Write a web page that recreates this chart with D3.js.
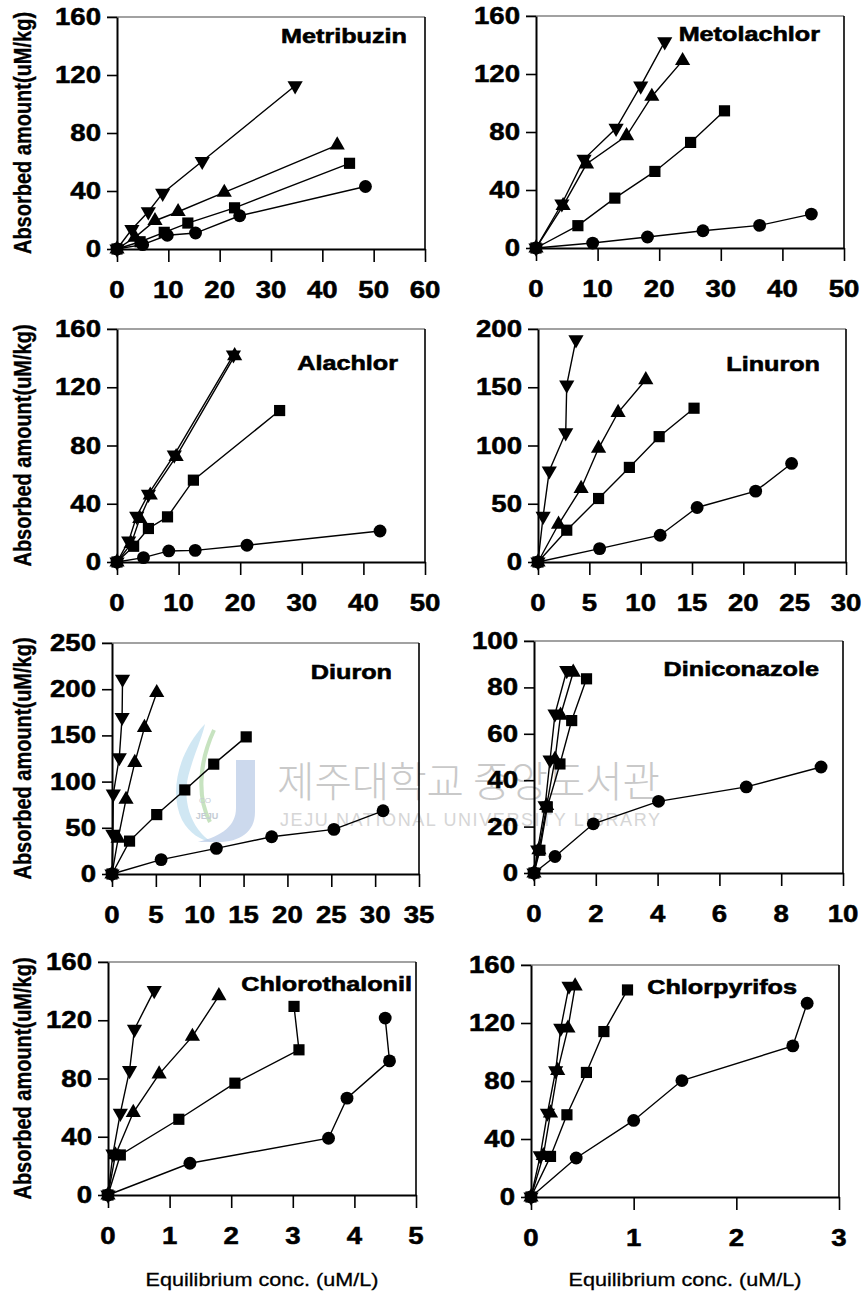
<!DOCTYPE html>
<html>
<head>
<meta charset="utf-8">
<script src="https://cdn.jsdelivr.net/npm/d3@7"></script>
<style>
  body { margin: 0; background: #fff; }
  svg { display: block; }
</style>
</head>
<body>
<svg id="chart" width="865" height="1296"></svg>
<script>
// ---------- Sorption isotherm data: [equilibrium conc (uM/L), absorbed amount (uM/kg)] ----------
const METRIBUZIN_CIRCLE = [[0,0],[5,3],[9.8,9.5],[15.3,11],[23.9,22.9],[48.4,43.1]];
const METRIBUZIN_SQUARE = [[0,0],[4.5,5],[9.2,11.5],[13.8,17.9],[22.9,28.4],[45.3,59.1]];
const METRIBUZIN_UP     = [[0,0],[3.5,8],[7.4,19.5],[11.9,25.7],[20.9,39],[42.9,71.7]];
const METRIBUZIN_DOWN   = [[0,0],[2.9,13.6],[6.1,25.7],[8.9,38.5],[16.6,60.5],[34.7,112.6]];

const METOLACHLOR_CIRCLE = [[0,0],[9.2,3.4],[18.1,7.6],[27.1,11.9],[36.3,15.6],[44.7,23.4]];
const METOLACHLOR_SQUARE = [[0,0],[6.8,15.4],[12.8,34.4],[19.3,52.8],[25.1,72.8],[30.6,94.6]];
const METOLACHLOR_UP     = [[0,0],[4.4,29.2],[8.2,57.9],[14.7,77.4],[18.8,104.5],[23.8,129.2]];
const METOLACHLOR_DOWN   = [[0,0],[4.2,30.5],[7.8,61.3],[13,82.6],[17,111.8],[20.9,142.3]];

const ALACHLOR_CIRCLE = [[0,0],[4.3,3],[8.4,7.6],[12.7,8],[21.1,11.5],[42.7,21.3]];
const ALACHLOR_SQUARE = [[0,0],[2.7,10.8],[5.1,23],[8.2,31],[12.4,56.2],[26.4,104]];
const ALACHLOR_UP     = [[0,0],[2.3,12.6],[3.7,29.8],[5.4,45.9],[9.6,72.3],[19.1,141.6]];
const ALACHLOR_DOWN   = [[0,0],[1.9,14.5],[3.2,31.5],[5.1,46.6],[9.3,73.5],[18.9,142.3]];

const LINURON_CIRCLE = [[0,0],[6,11.5],[11.9,23],[15.5,46.8],[21.2,60.8],[24.7,84.6]];
const LINURON_SQUARE = [[0,0],[2.8,27.3],[5.9,54.5],[8.9,81.2],[11.8,107.6],[15.2,132]];
const LINURON_UP     = [[0,0],[2,32.4],[4.2,63.1],[5.9,97.6],[7.8,128.3],[10.5,156.4]];
const LINURON_DOWN   = [[0,0],[0.5,39.3],[1.1,78.3],[2.7,111],[2.8,152],[3.7,190.8]];

const DIURON_CIRCLE = [[0,0],[5.6,15.6],[11.9,27.7],[18.2,40.3],[25.3,48.3],[30.9,68.4]];
const DIURON_SQUARE = [[0,0],[2,35.6],[5.1,64.3],[8.3,91],[11.6,118.9],[15.3,148.4]];
const DIURON_UP     = [[0,0],[0.7,38.6],[1.6,80.7],[2.6,120.6],[3.7,158.4],[5.1,196.2]];
const DIURON_DOWN   = [[0,0],[0.1,43.2],[0.15,86.6],[0.83,126],[1.15,169.6],[1.2,211]];

const DINICONAZOLE_CIRCLE = [[0,0],[0.68,7.1],[1.92,21.2],[4.03,30.9],[6.87,37.1],[9.29,45.7]];
const DINICONAZOLE_SQUARE = [[0,0],[0.19,9.8],[0.43,28.4],[0.84,47],[1.22,65.7],[1.7,83.7]];
const DINICONAZOLE_UP     = [[0,0],[0.16,10],[0.41,29],[0.68,49],[0.86,68],[1.27,86.5]];
const DINICONAZOLE_DOWN   = [[0,0],[0.12,10],[0.36,29],[0.52,48.8],[0.68,68.6],[1.06,87.3]];

const CHLOROTHALONIL_CIRCLE = [[0,0],[1.33,21.8],[3.58,39],[3.88,66.5],[4.57,92.1],[4.5,121.5]];
const CHLOROTHALONIL_SQUARE = [[0,0],[0.2,27.5],[1.15,52],[2.06,76.8],[3.1,99.7],[3.02,129.5]];
const CHLOROTHALONIL_UP     = [[0,0],[0.12,27.5],[0.41,56.6],[0.83,83],[1.37,108.9],[1.8,136.8]];
const CHLOROTHALONIL_DOWN   = [[0,0],[0.08,28.2],[0.2,56.2],[0.35,85.5],[0.43,113.9],[0.75,140.5]];

const CHLORPYRIFOS_CIRCLE = [[0,0],[0.44,26.9],[1.0,52.8],[1.47,80.3],[2.55,104.2],[2.69,133.6]];
const CHLORPYRIFOS_SQUARE = [[0,0],[0.19,28],[0.35,56.7],[0.54,85.9],[0.71,114.1],[0.94,142.8]];
const CHLORPYRIFOS_UP     = [[0,0],[0.12,28.5],[0.19,57.9],[0.26,87.2],[0.36,116.4],[0.43,145.5]];
const CHLORPYRIFOS_DOWN   = [[0,0],[0.09,28.5],[0.16,57.9],[0.24,87.2],[0.29,116.4],[0.37,145.5]];

// ---------- Panel titles and axes ----------
const PANEL_TITLES = ["Metribuzin","Metolachlor","Alachlor","Linuron","Diuron","Diniconazole","Chlorothalonil","Chlorpyrifos"];
const X_TICKS = [
  [0,10,20,30,40,50,60], [0,10,20,30,40,50], [0,10,20,30,40,50], [0,5,10,15,20,25,30],
  [0,5,10,15,20,25,30,35], [0,2,4,6,8,10], [0,1,2,3,4,5], [0,1,2,3]
];
const Y_TICKS = [
  [0,40,80,120,160], [0,40,80,120,160], [0,40,80,120,160], [0,50,100,150,200],
  [0,50,100,150,200,250], [0,20,40,60,80,100], [0,40,80,120,160], [0,40,80,120,160]
];
const Y_LABEL = "Absorbed amount(uM/kg)";
const X_LABEL = "Equilibrium conc. (uM/L)";

const SERIES = [
  [METRIBUZIN_CIRCLE, METRIBUZIN_SQUARE, METRIBUZIN_UP, METRIBUZIN_DOWN],
  [METOLACHLOR_CIRCLE, METOLACHLOR_SQUARE, METOLACHLOR_UP, METOLACHLOR_DOWN],
  [ALACHLOR_CIRCLE, ALACHLOR_SQUARE, ALACHLOR_UP, ALACHLOR_DOWN],
  [LINURON_CIRCLE, LINURON_SQUARE, LINURON_UP, LINURON_DOWN],
  [DIURON_CIRCLE, DIURON_SQUARE, DIURON_UP, DIURON_DOWN],
  [DINICONAZOLE_CIRCLE, DINICONAZOLE_SQUARE, DINICONAZOLE_UP, DINICONAZOLE_DOWN],
  [CHLOROTHALONIL_CIRCLE, CHLOROTHALONIL_SQUARE, CHLOROTHALONIL_UP, CHLOROTHALONIL_DOWN],
  [CHLORPYRIFOS_CIRCLE, CHLORPYRIFOS_SQUARE, CHLORPYRIFOS_UP, CHLORPYRIFOS_DOWN]
];

// ---------- Layout ----------
// plot frames: left, right, top, bottom
const FRAMES = [
  [117,425,17,249], [536,844,16,248],
  [117,425,329,562], [538,846,329,562],
  [112,419,643,874], [534,843,641,873],
  [108,416,962,1195], [531,839,965,1197]
];
// title placement: inset from the right edge, offset of its centre below the top edge
const TITLE_POS = [[18,18],[24,17],[27,33],[26,34],[27,28],[24,27],[4,21],[42,21]];
const FONT = "'Liberation Sans', Arial, Helvetica, sans-serif";
const STRETCH = 1.2;   // glyphs are drawn slightly wide

const svg = d3.select("#chart");

// ---------- Library watermark (drawn beneath the plots) ----------
const wm = svg.append("g").attr("class", "watermark");
wm.append("path")
  .attr("d", "M205,724 C180,750 168,790 182,820 C190,834 200,840 212,842 C192,830 180,800 190,770 C195,752 202,738 205,724 Z")
  .attr("fill", "#a9d3ea").attr("opacity", 0.55);
wm.append("path")
  .attr("d", "M214,730 C200,760 196,795 210,822 C198,800 198,765 214,730 Z")
  .attr("fill", "none").attr("stroke", "#b9dcb0").attr("stroke-width", 4).attr("opacity", 0.8);
wm.append("path")
  .attr("d", "M236,760 L255,760 L255,812 C255,832 240,842 218,842 L198,842 C222,836 236,826 236,808 Z")
  .attr("fill", "#b7c9e6").attr("opacity", 0.7);
wm.append("text").attr("x", 205).attr("y", 803).attr("text-anchor", "middle")
  .attr("font-family", FONT).attr("font-size", 8).attr("fill", "#c4cbd4").text("CO");
wm.append("text").attr("x", 207).attr("y", 819).attr("text-anchor", "middle")
  .attr("font-family", FONT).attr("font-weight", "bold").attr("font-size", 9).attr("fill", "#c4cbd4").text("JEJU");
wm.append("text")
  .attr("x", 277).attr("y", 797)
  .attr("font-family", "'Noto Sans CJK KR', sans-serif").attr("font-weight", 300)
  .attr("font-size", 42).attr("fill", "#c9c9c9")
  .attr("textLength", 383).attr("lengthAdjust", "spacingAndGlyphs")
  .text("제주대학교 중앙도서관");
wm.append("text")
  .attr("x", 280).attr("y", 826)
  .attr("font-family", FONT).attr("font-size", 18).attr("fill", "#d6d6d6")
  .attr("textLength", 380).attr("lengthAdjust", "spacing")
  .text("JEJU NATIONAL UNIVERSITY  LIBRARY");

// Text with horizontally widened glyphs
function wideText(parent, x, y, str, anchor, size, weight, stroke) {
  return parent.append("text")
    .attr("transform", `translate(${x},${y}) scale(${STRETCH},1)`)
    .attr("text-anchor", anchor)
    .attr("font-family", FONT)
    .attr("font-size", size)
    .attr("font-weight", weight)
    .attr("fill", "#000")
    .attr("stroke", "#000")
    .attr("stroke-width", stroke)
    .text(str);
}

const symbolTypes = [d3.symbolCircle, d3.symbolSquare, d3.symbolTriangle, d3.symbolTriangle];
const symbolSizes = [130, 125, 100, 100];
const symbolRotate = [0, 0, 0, 180];

PANEL_TITLES.forEach((title, i) => {
  const [L, R, T, B] = FRAMES[i];
  const xt = X_TICKS[i], yt = Y_TICKS[i];
  const x = d3.scaleLinear().domain([0, xt[xt.length - 1]]).range([L, R]);
  const y = d3.scaleLinear().domain([0, yt[yt.length - 1]]).range([B, T]);
  const g = svg.append("g").attr("class", "panel");

  // frame: top and right borders
  g.append("line").attr("x1", L - 10).attr("x2", R).attr("y1", T).attr("y2", T)
    .attr("stroke", "#444").attr("stroke-width", 1.2);
  g.append("line").attr("x1", R).attr("x2", R).attr("y1", T).attr("y2", B)
    .attr("stroke", "#000").attr("stroke-width", 1.6);

  // axes
  const xAxis = g.append("g").attr("transform", `translate(0,${B})`)
    .call(d3.axisBottom(x).tickValues(xt).tickSize(13).tickSizeOuter(0).tickFormat(""));
  const yAxis = g.append("g").attr("transform", `translate(${L},0)`)
    .call(d3.axisLeft(y).tickValues(yt).tickSize(10).tickSizeOuter(0).tickFormat(""));
  [xAxis, yAxis].forEach(a => {
    a.select(".domain").attr("stroke", "#000").attr("stroke-width", 2);
    a.selectAll(".tick line").attr("stroke", "#000").attr("stroke-width", 1.6);
  });

  // tick labels
  xt.forEach(v => wideText(g, x(v), B + 49, String(v), "middle", 23, "bold", 0.5));
  yt.forEach(v => wideText(g, L - 16, y(v) + 8, String(v), "end", 23, "bold", 0.5));

  // series: connecting lines then markers
  const line = d3.line().x(d => x(d[0])).y(d => y(d[1]));
  SERIES[i].forEach(pts => {
    g.append("path").datum(pts)
      .attr("d", line)
      .attr("fill", "none").attr("stroke", "#000").attr("stroke-width", 1.4);
  });
  SERIES[i].forEach((pts, s) => {
    g.selectAll(null).data(pts).join("path")
      .attr("d", d3.symbol().type(symbolTypes[s]).size(symbolSizes[s]))
      .attr("transform", d => `translate(${x(d[0])},${y(d[1])}) rotate(${symbolRotate[s]})`)
      .attr("fill", "#000");
  });

  // panel title
  const [inset, drop] = TITLE_POS[i];
  wideText(g, R - inset, T + drop + 7.5, title, "end", 21, "bold", 0.6);

  // y-axis title (left column)
  if (i % 2 === 0) {
    g.append("text")
      .attr("transform", `translate(31,${(T + B) / 2}) rotate(-90) scale(1,${STRETCH})`)
      .attr("text-anchor", "middle")
      .attr("font-family", FONT).attr("font-size", 20).attr("font-weight", "bold")
      .attr("stroke", "#000").attr("stroke-width", 0.3)
      .text(Y_LABEL);
  }
  // x-axis title (bottom row)
  if (i >= 6) {
    wideText(g, (L + R) / 2, 1286, X_LABEL, "middle", 18, "normal", 0.3);
  }
});
</script>
</body>
</html>
